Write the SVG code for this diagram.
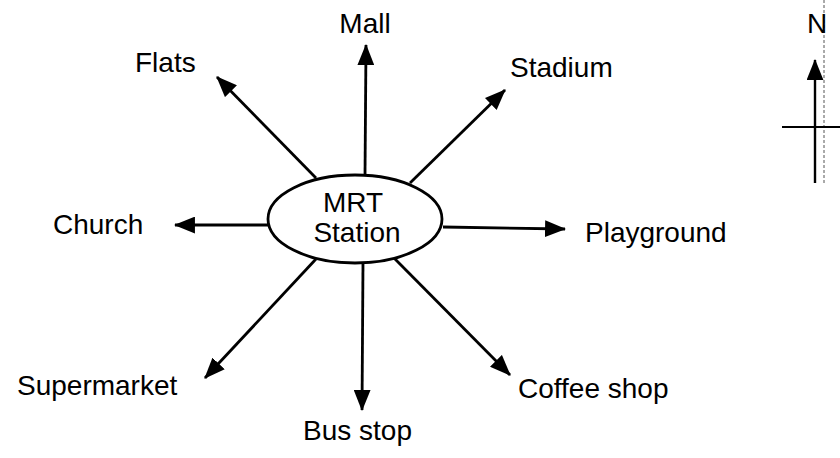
<svg xmlns="http://www.w3.org/2000/svg" width="840" height="458" viewBox="0 0 840 458">
<style>
text{font-family:"Liberation Sans",Arial,sans-serif;font-size:28px;fill:#000}
.c{fill:none;stroke:#000;stroke-width:2.8;marker-end:url(#ah)}
.m{text-anchor:middle}
</style>
<defs>
<marker id="ah" viewBox="0 0 20 16" refX="19" refY="8" markerWidth="21" markerHeight="17" markerUnits="userSpaceOnUse" orient="auto">
<path d="M0,0 L20,8 L0,16 z" fill="#000"/>
</marker>
</defs>
<rect width="840" height="458" fill="#fff"/>
<g id="connectors">
<line class="c" x1="365" y1="175" x2="366" y2="45"/>
<line class="c" x1="316" y1="178" x2="217" y2="77"/>
<line class="c" x1="410" y1="183" x2="505" y2="90"/>
<line class="c" x1="268" y1="225" x2="175" y2="225"/>
<line class="c" x1="443" y1="227" x2="565" y2="229"/>
<line class="c" x1="316" y1="259" x2="205" y2="378"/>
<line class="c" x1="363" y1="263" x2="362" y2="410"/>
<line class="c" x1="394" y1="258" x2="510" y2="375"/>
</g>
<g id="mrt">
<ellipse cx="355" cy="219" rx="87" ry="44" fill="#fff" stroke="#000" stroke-width="2.8"/>
<text class="m" x="353" y="212">MRT</text>
<text class="m" x="357" y="242">Station</text>
</g>
<g id="mall"><text class="m" x="365" y="33">Mall</text></g>
<g id="flats"><text x="135" y="72">Flats</text></g>
<g id="stadium"><text x="510" y="77">Stadium</text></g>
<g id="church"><text x="53" y="234">Church</text></g>
<g id="playground"><text x="585" y="242">Playground</text></g>
<g id="supermarket"><text x="17" y="395">Supermarket</text></g>
<g id="busstop"><text x="303" y="440">Bus stop</text></g>
<g id="coffeeshop"><text x="518" y="398">Coffee shop</text></g>
<g id="compass">
<line x1="824" y1="0" x2="824" y2="185" stroke="#555" stroke-width="1" stroke-dasharray="3,2"/>
<text x="807" y="33">N</text>
<line x1="815" y1="183" x2="815" y2="60" stroke="#000" stroke-width="2.4" marker-end="url(#ah)"/>
<line x1="782" y1="127" x2="840" y2="127" stroke="#000" stroke-width="2"/>
</g>
</svg>
